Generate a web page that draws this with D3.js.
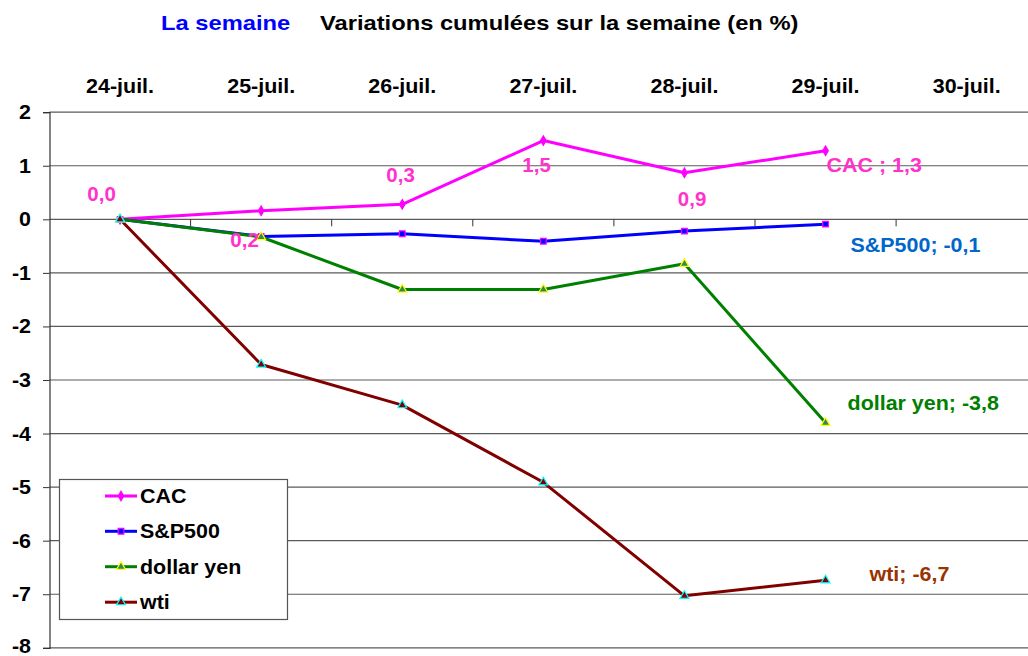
<!DOCTYPE html>
<html><head><meta charset="utf-8">
<script src="https://cdn.jsdelivr.net/npm/d3@7"></script>
<style>
html,body{margin:0;padding:0;background:#fff;overflow:hidden;}
text{font-family:"Liberation Sans",Arial,sans-serif;font-weight:bold;}
</style></head>
<body>
<svg id="chart" width="1028" height="656"></svg>
<script>
// ---- data ----
const categories = ["24-juil.","25-juil.","26-juil.","27-juil.","28-juil.","29-juil.","30-juil."];
const seriesNames = ["CAC","S&P500","dollar yen","wti"];
const cac = [0.0, 0.16, 0.28, 1.47, 0.87, 1.28];
const sp500 = [0.0, -0.32, -0.27, -0.41, -0.22, -0.09];
const dollarYen = [0.0, -0.33, -1.31, -1.31, -0.83, -3.80];
const wti = [0.0, -2.71, -3.47, -4.91, -7.03, -6.74];
const yTicks = [2,1,0,-1,-2,-3,-4,-5,-6,-7,-8];
const endLabels = ["CAC ; ","S&P500; ","dollar yen; ","wti; "];

// ---- styles ----
const styles = [
  {line:"#FF00FF", fill:"#FF00FF", stroke:"#FF00FF", shape:d3.symbolDiamond, size:26, label:"#FF33CC"},
  {line:"#0000FF", fill:"#0000FF", stroke:"#FF00FF", shape:d3.symbolSquare, size:32, label:"#0066CC"},
  {line:"#008000", fill:"#2E8B57", stroke:"#FFFF00", shape:d3.symbolTriangle, size:34, label:"#008000"},
  {line:"#800000", fill:"#800000", stroke:"#00FFFF", shape:d3.symbolTriangle, size:34, label:"#993300"}
];
// label offsets (px) for CAC point labels and series end labels
const cacLabelOffsets = [[-18.5,-18.3],[-16.6,36.6],[-1.7,-22.7],[-6.8,31.5],[7.6,33],null];
const endLabelOffsets = [[1,21.7],[25,28.3],[22,-12.7],[44,0.3]];

const allSeries = [cac, sp500, dollarYen, wti];
const fmt = d3.formatLocale({decimal:",",thousands:" ",grouping:[3],currency:["","€"],minus:"-"}).format(".1f");

const svg = d3.select("#chart");
const SX = 1.1;
function stext(parent, x, y, str, opt){
  const g = parent.append("g").attr("transform",`translate(${x},${y}) scale(${opt.sx||SX},1)`);
  return g.append("text").attr("x",0).attr("y",0)
    .attr("text-anchor",opt.anchor||"start")
    .attr("font-size",opt.size||19.5)
    .attr("fill",opt.color||"#000")
    .text(str);
}

const left = 49.5, bandW = 141.1;
const x = d3.scaleBand().domain(categories).range([left, left + bandW*categories.length]).paddingInner(0).paddingOuter(0);
const y = d3.scaleLinear().domain([-8,2]).range([647.8,112.2]);
const cx = i => x(categories[i]) + x.bandwidth()/2;

// title
stext(svg,161,30,"La semaine",{size:21,sx:1.13,color:"#0000FF"});
stext(svg,320,30,"Variations cumulées sur la semaine (en %)",{size:21,sx:1.13,color:"#000"});

// gridlines
const grid = svg.append("g");
grid.selectAll("line").data(yTicks).join("line")
  .attr("x1",left).attr("x2",1040)
  .attr("y1",d=>y(d)).attr("y2",d=>y(d))
  .attr("stroke","#5a5a5a").attr("stroke-width",1.2);

// y axis
const yAxis = d3.axisLeft(y).tickValues(yTicks).tickSize(6.5).tickFormat(()=> "");
const ya = svg.append("g").attr("transform",`translate(${left},0)`).call(yAxis);
ya.select(".domain").attr("stroke","#333").attr("stroke-width",1.2);
ya.selectAll(".tick line").attr("stroke","#333");
yTicks.forEach(t=>{
  stext(svg,31,Math.min(y(t)+7,653),String(t),{anchor:"end",size:19.5,sx:1.1});
});

// x axis at 0 with boundary ticks downward
const xa = svg.append("g").attr("transform",`translate(0,${y(0)})`);
categories.forEach((c,i)=>{
  if(i===0) return;
  xa.append("line").attr("x1",x(c)).attr("x2",x(c)).attr("y1",0).attr("y2",7).attr("stroke","#333").attr("stroke-width",1);
});
// category labels on top
categories.forEach((c,i)=>{
  stext(svg,cx(i),92.5,c,{anchor:"middle",size:19.5,sx:1.1});
});

// lines and markers
const lineGen = d3.line().x((d,i)=>cx(i)).y(d=>y(d));
allSeries.forEach((s,k)=>{
  const st = styles[k];
  svg.append("path").datum(s).attr("d",lineGen)
    .attr("fill","none").attr("stroke",st.line).attr("stroke-width",3).attr("stroke-linejoin","round");
});
allSeries.forEach((s,k)=>{
  const st = styles[k];
  svg.append("g").selectAll("path").data(s).join("path")
    .attr("transform",(d,i)=>`translate(${cx(i)},${y(d)})`)
    .attr("d",d3.symbol().type(st.shape).size(st.size))
    .attr("fill",st.fill).attr("stroke",st.stroke).attr("stroke-width",1.2);
});

// CAC point labels
cac.forEach((v,i)=>{
  const o = cacLabelOffsets[i];
  if(!o) return;
  stext(svg,cx(i)+o[0],y(v)+o[1],fmt(v),{anchor:"middle",size:19.5,sx:1.05,color:styles[0].label});
});
// series end labels
allSeries.forEach((s,k)=>{
  const i = s.length-1, o = endLabelOffsets[k];
  stext(svg,cx(i)+o[0],y(s[i])+o[1],endLabels[k]+fmt(s[i]),{anchor:"start",size:19.5,sx:1.1,color:styles[k].label});
});

// legend
const lg = svg.append("g");
lg.append("rect").attr("x",59.5).attr("y",479.5).attr("width",228).attr("height",140)
  .attr("fill","#fff").attr("stroke","#555").attr("stroke-width",1.2);
const rowY = [496,531.3,566.7,602.2];
seriesNames.forEach((n,k)=>{
  const st = styles[k];
  lg.append("line").attr("x1",105).attr("x2",137).attr("y1",rowY[k]).attr("y2",rowY[k])
    .attr("stroke",st.line).attr("stroke-width",3);
  lg.append("path").attr("transform",`translate(121,${rowY[k]})`)
    .attr("d",d3.symbol().type(st.shape).size(st.size))
    .attr("fill",st.fill).attr("stroke",st.stroke).attr("stroke-width",1.2);
  stext(lg,140,rowY[k]+7,n,{anchor:"start",size:19.5,sx:1.1});
});
</script>
</body></html>
